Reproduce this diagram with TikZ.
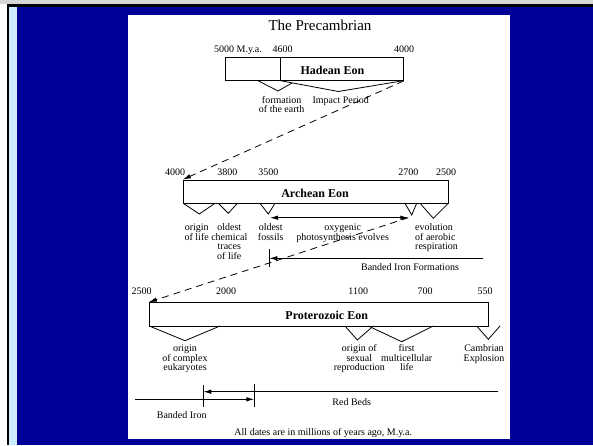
\documentclass[tikz,border=0pt]{standalone}
\usepackage{fontspec}
\setmainfont{Liberation Serif}
\usetikzlibrary{arrows.meta}
\definecolor{navy}{RGB}{0,0,153}
\definecolor{paleblue}{RGB}{204,236,255}
\definecolor{stripgray}{RGB}{214,214,214}
\tikzset{
 eon/.style={draw, line width=.9pt, inner sep=0, minimum height=23.5pt},
 vee/.style={line width=.8pt, line join=miter},
 lbl/.style={font=\fontsize{10}{9.5}\selectfont, align=center, inner sep=0, anchor=base},
 lbls/.style={lbl, anchor=north},
 yr/.style={font=\fontsize{10}{10}\selectfont, inner sep=0, anchor=base},
 eonname/.style={font=\fontsize{12}{12}\selectfont\bfseries, inner sep=0, anchor=base},
 link/.style={line width=.8pt, dash pattern=on 7pt off 5pt, -{Latex[length=8pt,width=4.5pt]}},
 span/.style={line width=.9pt, -{Latex[length=8pt,width=4.5pt]}},
}
\begin{document}
\begin{tikzpicture}[x=1pt, y=-1pt]
\useasboundingbox (0,0) rectangle (593,445);
% slide frame
\fill[white] (0,0) rectangle (593,445);
\fill[stripgray] (0,0) rectangle (593,4);
\fill[black] (7,4) rectangle (593,7);
\fill[black] (7,4) rectangle (9,445);
\fill[paleblue] (9,7) rectangle (17,445);
\fill[navy] (17,7) rectangle (593,445);
\fill[white] (128,15) rectangle (510,439);

\node[font=\fontsize{15}{15}\selectfont, inner sep=0, anchor=base] (title) at (320,30) {The Precambrian};

% Hadean
\node[eon, minimum width=178pt] (hadean) at (314.3,68.7) {};
\draw[line width=.9pt] (280.7,56.7) -- (280.7,80.7);
\node[eonname] (hadeanname) at (332.5,74) {Hadean Eon};
\node[yr] (h5000) at (238,52.5) {5000 M.y.a.};
\node[yr] (h4600) at (282.7,52.5) {4600};
\node[yr] (h4000) at (404,52.5) {4000};
\draw[vee] (258,80.7) -- (278,91) -- (292,83);
\draw[vee] (280.7,80.7) -- (338.3,91.5) -- (403.3,80.7);
\node[lbls] (formation) at (281.7,96.2) {formation\\of the earth};
\node[lbl] (impact) at (340.7,103) {Impact Period};

% Archean
\node[eon, minimum width=265pt] (archean) at (315.8,191.7) {};
\node[eonname] (archeanname) at (315,197) {Archean Eon};
\foreach \x/\t in {175/4000, 227.3/3800, 268.3/3500, 408.3/2700, 446/2500}
 \node[yr] (a\t) at (\x,175) {\t};
\foreach \a/\b/\c/\d in {183.3/199.3/214/215, 218.3/228.3/213.3/237.3, 260/268.3/214/275, 405/411.7/215/416.7, 420/433.3/218.3/448.3}
 \draw[vee] (\a,203.3) -- (\b,\c) -- (\d,203.3);
\coordinate (oxyL) at (270,217.7);
\coordinate (oxyR) at (408.3,217.7);
\draw[span, {Latex[length=8pt,width=4.5pt]}-{Latex[length=8pt,width=4.5pt]}] (oxyL) -- (oxyR);
\node[lbls] (life) at (196.7,223.7) {origin\\of life};
\node[lbls] (traces) at (229.3,223.7) {oldest\\chemical\\traces\\of life};
\node[lbls] (fossils) at (270.7,223.7) {oldest\\fossils};
\node[lbls] (oxygen) at (342.7,223.7) {oxygenic\\photosynthesis evolves};
\node[lbls, align=left, anchor=north west] (aerobic) at (415,223.7) {evolution\\of aerobic\\respiration};

% banded iron formations
\coordinate (bifT) at (269.3,249.3);
\coordinate (bifB) at (269.3,266.7);
\coordinate (bifL) at (269.3,258.3);
\coordinate (bifR) at (483.3,258.3);
\draw[line width=.8pt] (bifT) -- (bifB);
\draw[span] (bifR) -- (bifL);
\node[lbl] (bif) at (410,270) {Banded Iron Formations};

% Proterozoic
\node[eon, minimum width=339pt] (proterozoic) at (318.8,314.3) {};
\node[eonname] (proterozoicname) at (326.7,319) {Proterozoic Eon};
\foreach \x/\t in {141.7/2500, 226/2000, 358.3/1100, 425/700, 485/550}
 \node[yr] (p\t) at (\x,294) {\t};
\foreach \a/\b/\c/\d in {149.3/185/340.7/220, 345/357.3/340/373.3, 368.3/401.7/341.7/433.3, 476.7/488.3/339.3/500}
 \draw[vee] (\a,326) -- (\b,\c) -- (\d,326);
\node[lbls] (eukaryotes) at (185,344.7) {origin\\of complex\\eukaryotes};
\node[lbls] (sexual) at (359.3,344.7) {origin of\\sexual\\reproduction};
\node[lbls] (multicell) at (406.7,344.7) {first\\multicellular\\life};
\node[lbls] (cambrian) at (484,344.7) {Cambrian\\Explosion};

% links between the eons
\draw[link] (hadean.south east) -- (archean.north west);
\draw[link] (oxyR) -- (proterozoic.north west);

% red beds and banded iron
\coordinate (rbT) at (203.3,385);
\coordinate (rbB) at (203.3,406.7);
\coordinate (rbL) at (203.3,391.7);
\coordinate (rbR) at (498.3,391.7);
\coordinate (biT) at (254.3,384);
\coordinate (biB) at (254.3,406.7);
\coordinate (biL) at (135,399.3);
\coordinate (biR) at (254.3,399.3);
\draw[line width=.8pt] (rbT) -- (rbB) (biT) -- (biB);
\draw[span] (rbR) -- (rbL);
\draw[span] (biL) -- (biR);
\node[lbl] (redbeds) at (351.7,405) {Red Beds};
\node[lbl] (bandediron) at (181.7,418) {Banded Iron};

\node[lbl] (note) at (323.3,435) {All dates are in millions of years ago, M.y.a.};
\end{tikzpicture}
\end{document}
